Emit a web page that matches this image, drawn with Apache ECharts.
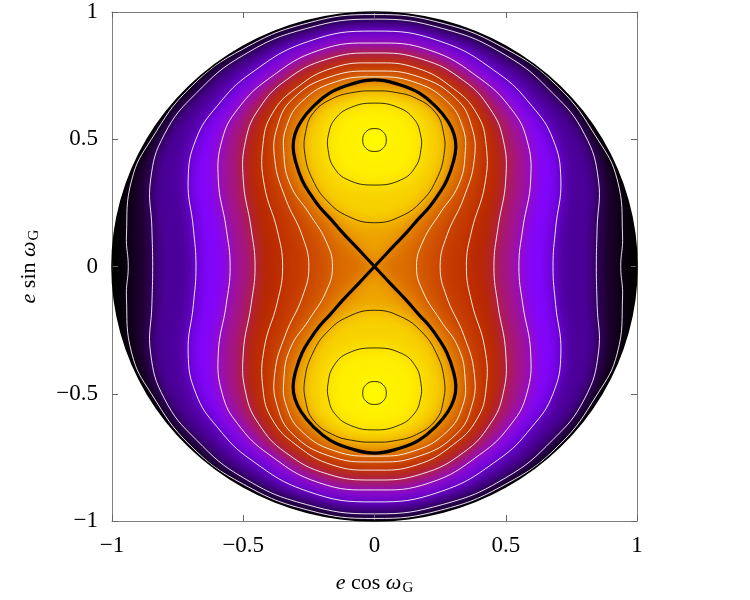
<!DOCTYPE html>
<html><head><meta charset="utf-8">
<script src="https://cdn.jsdelivr.net/npm/echarts@6/dist/echarts.min.js"></script>
<style>
html,body{margin:0;padding:0;background:#fff;}
#wrap{position:relative;width:750px;height:600px;}
#bg,#fg{position:absolute;left:0;top:0;width:750px;height:600px;}
#bg{filter:blur(8px);}
</style></head><body>
<div id="wrap"><div id="bg"></div><div id="fg"></div></div>
<script>
// ---- data (first quadrant, symmetric plot) ----
const edgeQ1 = [[1,0],[0.9914,0.1305],[0.9659,0.2588],[0.9239,0.3827],[0.866,0.5],[0.7934,0.6088],[0.7071,0.7071],[0.6088,0.7934],[0.5,0.866],[0.3827,0.9239],[0.2588,0.9659],[0.1305,0.9914],[0,1]];
// white contours, outer -> inner, from the x axis to the y axis
const contourW1 = [[0.938,0],[0.945,0.12],[0.925,0.34],[0.85,0.5],[0.7,0.705],[0.5,0.855],[0.25,0.958],[0,0.99]];
const contourW2 = [[0.845,0],[0.848,0.15],[0.853,0.34],[0.8,0.52],[0.68,0.68],[0.5,0.83],[0.26,0.935],[0,0.972]];
const contourW3 = [[0.68,0],[0.69,0.15],[0.71,0.34],[0.68,0.5],[0.6,0.63],[0.47,0.76],[0.25,0.885],[0,0.925]];
const contourW4 = [[0.55,0],[0.565,0.15],[0.595,0.34],[0.58,0.5],[0.52,0.62],[0.4,0.74],[0.21,0.85],[0,0.878]];
const contourW5 = [[0.455,0],[0.47,0.15],[0.5,0.34],[0.49,0.5],[0.44,0.62],[0.34,0.73],[0.18,0.815],[0,0.839]];
const contourW6 = [[0.35,0],[0.37,0.14],[0.42,0.32],[0.425,0.48],[0.39,0.6],[0.3,0.7],[0.16,0.78],[0,0.8]];
const contourW7 = [[0.25,0],[0.275,0.12],[0.34,0.27],[0.38,0.42],[0.37,0.55],[0.31,0.66],[0.17,0.745],[0,0.768]];
const contourW8 = [[0.16,0],[0.185,0.1],[0.25,0.21],[0.32,0.32],[0.345,0.44],[0.335,0.55],[0.275,0.65],[0.15,0.725],[0,0.745]];
// separatrix (thick), from the origin up the right side to the top
const separatrixQ1 = [[0,0],[0.06,0.066],[0.12,0.131],[0.17,0.19],[0.21,0.235],[0.245,0.285],[0.276,0.34],[0.3,0.41],[0.31,0.47],[0.303,0.52],[0.28,0.57],[0.235,0.627],[0.17,0.682],[0.093,0.715],[0,0.733]];
// thin black contours inside the upper lobe: right half, bottom -> top
const lobeA = [[0,0.172],[0.1,0.197],[0.18,0.257],[0.235,0.34],[0.265,0.44],[0.262,0.53],[0.232,0.605],[0.16,0.66],[0.075,0.685],[0,0.69]];
const lobeB = [[0,0.32],[0.1,0.34],[0.155,0.39],[0.177,0.46],[0.175,0.52],[0.15,0.58],[0.09,0.625],[0,0.642]];
const lobeC = [[0,0.452],[0.032,0.464],[0.045,0.497],[0.032,0.53],[0,0.542]];
// fill colours of the bands (outside -> inside)
const bandFill = ['#1a0028','#4c009a','#8205fc','#a41488','#b82800','#c43800','#cf5000','#dc6e00'];
const lobeFill = ['#eda200','#f8d200','#fff000','#ffff00'];

// ---- helpers to close curves by symmetry ----
function fullFromQuadrant(q){
  const pts = q.map(p=>[p[0],p[1]]);
  q.slice().reverse().slice(1).forEach(p=>pts.push([-p[0],p[1]]));
  q.slice(1).forEach(p=>pts.push([-p[0],-p[1]]));
  q.slice().reverse().slice(1,-1).forEach(p=>pts.push([p[0],-p[1]]));
  return pts;
}
function lobeLoop(half, sign){
  const pts = half.map(p=>[p[0],sign*p[1]]);
  half.slice().reverse().slice(1,-1).forEach(p=>pts.push([-p[0],sign*p[1]]));
  return pts;
}
function sepHalf(sign){
  const pts = separatrixQ1.map(p=>[p[0],sign*p[1]]);
  separatrixQ1.slice().reverse().slice(1).forEach(p=>pts.push([-p[0],sign*p[1]]));
  return pts;
}
const whites = [contourW1,contourW2,contourW3,contourW4,contourW5,contourW6,contourW7,contourW8];
const edge = fullFromQuadrant(edgeQ1);

const fills = [];
whites.forEach((w,i)=>fills.push({pts:fullFromQuadrant(w), fill:bandFill[i]}));
[1,-1].forEach(s=>{
  fills.push({pts:sepHalf(s), fill:lobeFill[0]});
  fills.push({pts:lobeLoop(lobeA,s), fill:lobeFill[1]});
  fills.push({pts:lobeLoop(lobeB,s), fill:lobeFill[2]});
  fills.push({pts:lobeLoop(lobeC,s), fill:lobeFill[3]});
});
const lines = [];
whites.forEach(w=>lines.push({pts:fullFromQuadrant(w), closed:true, stroke:'rgba(255,255,255,0.88)', w:1}));
[1,-1].forEach(s=>{
  lines.push({pts:lobeLoop(lobeA,s), closed:true, stroke:'#000', w:0.8});
  lines.push({pts:lobeLoop(lobeB,s), closed:true, stroke:'#000', w:0.8});
  lines.push({pts:lobeLoop(lobeC,s), closed:true, stroke:'#000', w:0.8});
  lines.push({pts:sepHalf(s), closed:false, stroke:'#000', w:3.2});
});
lines.push({pts:edge, closed:true, stroke:'#000', w:1.6});

const FONT = 'Liberation Serif';
const grid = {left:112, right:113, top:12, bottom:79, outerBoundsMode:'none', containLabel:false};
const fmt = v => v<0 ? '\u2212'+Math.abs(v) : String(v);

// ---- background (colour bands, softened) ----
const bg = echarts.init(document.getElementById('bg'), null, {renderer:'canvas'});
bg.setOption({
  animation:false, backgroundColor:'#000', grid:grid,
  xAxis:{type:'value',min:-1,max:1,interval:0.5,show:false},
  yAxis:{type:'value',min:-1,max:1,interval:0.5,show:false},
  series:[{type:'custom', coordinateSystem:'cartesian2d', data:fills.map((f,i)=>[i]),
    renderItem:(params, api)=>{
      const f = fills[params.dataIndex];
      return {type:'polygon', shape:{points:f.pts.map(p=>api.coord(p)), smooth:0.45},
        style:{fill:f.fill, stroke:null}};
    }}]
});
const c0 = bg.convertToPixel({gridIndex:0},[0,0]);
const c1 = bg.convertToPixel({gridIndex:0},[1,1]);
const rx = c1[0]-c0[0], ry = c0[1]-c1[1];
document.getElementById('bg').style.clipPath = `ellipse(${rx}px ${ry}px at ${c0[0]}px ${c0[1]}px)`;

// ---- foreground (axes, contours, text) ----
const rich = {
  it:{fontFamily:FONT, fontStyle:'italic', fontSize:22, color:'#000'},
  up:{fontFamily:FONT, fontSize:22, color:'#000'},
  sub:{fontFamily:FONT, fontSize:15, color:'#000', padding:[10,0,0,1]}
};
const axisCommon = {type:'value',min:-1,max:1,interval:0.5,
  axisLine:{show:true,onZero:false,lineStyle:{color:'#808080',width:1}},
  axisTick:{show:true,inside:true,length:6,lineStyle:{color:'#666',width:1}},
  splitLine:{show:false}};
const fg = echarts.init(document.getElementById('fg'), null, {renderer:'canvas'});
fg.setOption({
  animation:false, backgroundColor:'transparent', grid:grid,
  xAxis:[
    Object.assign({}, axisCommon, {position:'bottom',
      axisLabel:{show:true, margin:13, formatter:fmt, fontFamily:FONT, fontSize:23, color:'#000'},
      name:'{it|e}{up| cos }{it|ω}{sub|G}', nameLocation:'middle', nameGap:50,
      nameTextStyle:{rich:rich}}),
    Object.assign({}, axisCommon, {position:'top', axisLabel:{show:false}})
  ],
  yAxis:[
    Object.assign({}, axisCommon, {position:'left',
      axisLabel:{show:true, margin:14, formatter:fmt, fontFamily:FONT, fontSize:23, color:'#000'},
      name:'{it|e}{up| sin }{it|ω}{sub|G}', nameLocation:'middle', nameGap:70, nameRotate:90,
      nameTextStyle:{rich:rich}}),
    Object.assign({}, axisCommon, {position:'right', axisLabel:{show:false}})
  ],
  series:[{type:'custom', coordinateSystem:'cartesian2d', xAxisIndex:0, yAxisIndex:0,
    data:lines.map((l,i)=>[i]),
    renderItem:(params, api)=>{
      const l = lines[params.dataIndex];
      return {type:l.closed?'polygon':'polyline', shape:{points:l.pts.map(p=>api.coord(p)), smooth:0.45},
        style:{fill:null, stroke:l.stroke, lineWidth:l.w}};
    }}]
});
</script>
</body></html>
